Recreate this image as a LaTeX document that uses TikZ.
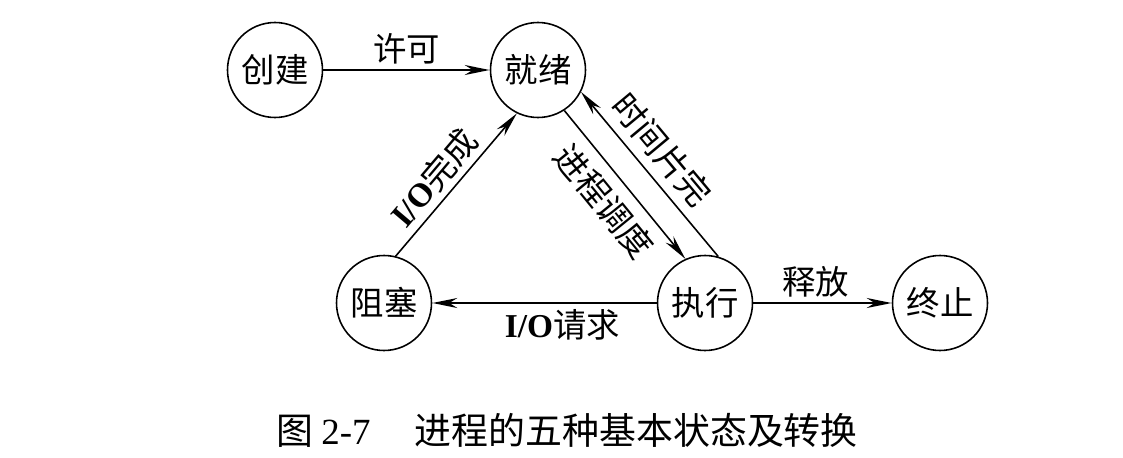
\documentclass[tikz,border=0pt]{standalone}
\usepackage{fontspec}
\setmainfont{Liberation Serif}
\newfontfamily\cjk{Noto Sans CJK SC}
\usetikzlibrary{arrows.meta}

\begin{document}
\begin{tikzpicture}[
  state/.style={draw, circle, line width=0.9pt, minimum size=1.9cm, inner sep=0pt, font=\cjk\fontsize{19}{21}\selectfont},
  trans/.style={-{Stealth[length=5mm, width=2mm, inset=1.6mm]}, line width=0.9pt},
  lab/.style={font=\cjk\fontsize{19}{21}\selectfont, inner sep=3pt}
]
\useasboundingbox (0,0) rectangle (22.46,9.14);

% States
\node[state] (cj) at (5.50, 7.74) {创建};
\node[state] (jx) at (10.76, 7.74) {就绪};
\node[state] (zs) at (7.68, 3.08) {阻塞};
\node[state] (zx) at (14.10, 3.08) {执行};
\node[state] (zz) at (18.80, 3.08) {终止};

% Transitions
\draw[trans] (cj) -- node[lab, above] (xk) {许可} (jx);
\draw[trans] (zs.76) -- node[lab, above, sloped, pos=0.45] (wc) {{\rmfamily\bfseries I/O}完成} (jx.244);
\draw[trans] (jx.-57) -- node[lab, below, sloped, inner sep=6pt] (dd) {进程调度} (zx.114);
\draw[trans] (zx.74) -- node[lab, above, sloped, pos=0.55, inner sep=5pt] (sj) {时间片完} (jx.-27);
\draw[trans] (zx) -- node[lab, below, pos=0.42] (qq) {{\rmfamily\bfseries I/O}请求} (zs);
\draw[trans] (zx) -- node[lab, above, pos=0.45] (sf) {释放} (zz);

% Caption
\node[font=\cjk\fontsize{21}{23}\selectfont] (cap) at (11.34, 0.54) {图 {\rmfamily 2-7}\hspace{1.2em}进程的五种基本状态及转换};

\end{tikzpicture}
\end{document}
